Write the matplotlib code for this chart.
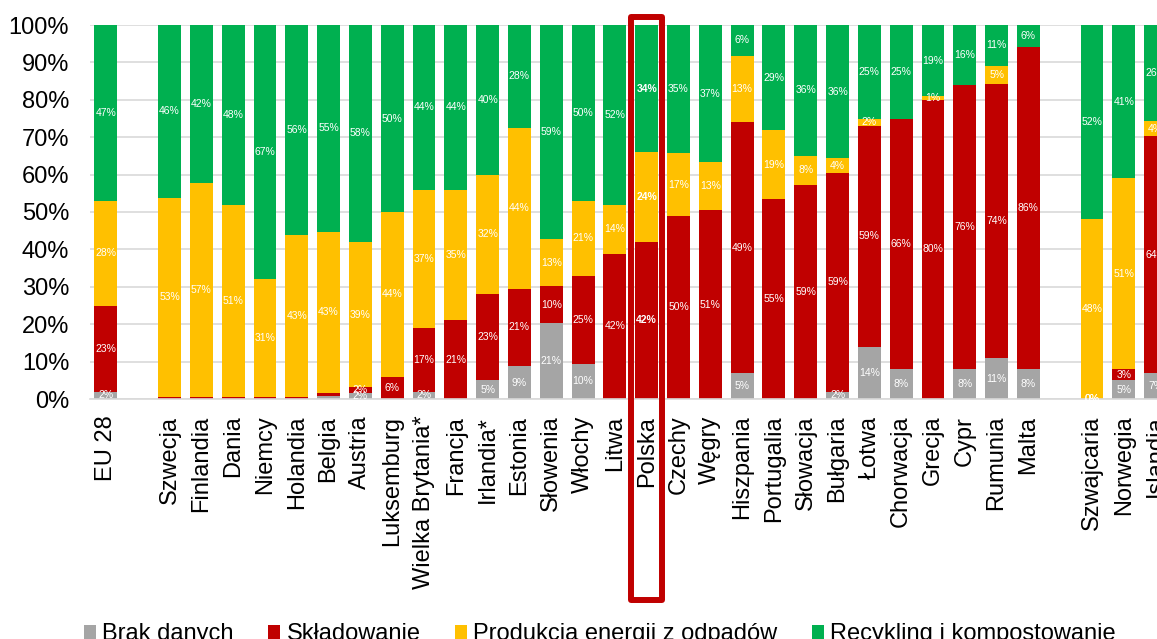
import matplotlib
matplotlib.use("Agg")
import matplotlib.pyplot as plt
import matplotlib.transforms as mtransforms
from matplotlib.patches import Patch, Rectangle
import numpy as np

plt.rcParams["font.family"] = ["Liberation Sans", "DejaVu Sans"]

# Municipal waste treatment shares by country (empty strings are spacer slots)
categories = [
    "EU 28", "",
    "Szwecja", "Finlandia", "Dania", "Niemcy", "Holandia", "Belgia", "Austria",
    "Luksemburg", "Wielka Brytania*", "Francja", "Irlandia*", "Estonia",
    "Słowenia", "Włochy", "Litwa", "Polska", "Czechy", "Węgry", "Hiszpania",
    "Portugalia", "Słowacja", "Bułgaria", "Łotwa", "Chorwacja", "Grecja",
    "Cypr", "Rumunia", "Malta", "",
    "Szwajcaria", "Norwegia", "Islandia",
]

brak_danych = [2, 0,
               0, 0, 0, 0, 0, 0.7, 1.5, 0, 2, 0, 5, 9, 21, 10, 0, 0, 0, 0, 5,
               0, 0, 2, 14, 8, 0, 8, 11, 8, 0,
               0, 5, 7]
skladowanie = [23, 0,
               0.6, 0.6, 0.6, 0.6, 0.6, 0.9, 1.6, 6, 17, 21, 23, 21, 10, 25, 42,
               42, 50, 51, 49, 55, 59, 59, 59, 66, 80, 76, 74, 86, 0,
               0, 3, 64]
energia = [28, 0,
           53, 57, 51, 31, 43, 43, 39, 44, 37, 35, 32, 44, 13, 21, 14, 24, 17,
           13, 13, 19, 8, 4, 2, 0, 1, 0, 5, 0, 0,
           48, 51, 4]
recykling = [47, 0,
             46, 42, 48, 67, 56, 55, 58, 50, 44, 44, 40, 28, 59, 50, 52, 34, 35,
             37, 6, 29, 36, 36, 25, 25, 19, 16, 11, 6, 0,
             52, 41, 26]

series_names = ["Brak danych", "Składowanie", "Produkcja energii z odpadów",
                "Recykling i kompostowanie"]
series_colors = ["#A5A5A5", "#C00000", "#FFC000", "#00B050"]

highlight = "Polska"
zero_labelled = ["Szwajcaria"]

W, H, DPI = 1157, 639, 100
FS = 17
fig = plt.figure(figsize=(W / DPI, H / DPI), dpi=DPI)
ax = fig.add_axes([90 / W, 1 - 399 / H, 1 - 90 / W, (399 - 25) / H])

data = np.array([brak_danych, skladowanie, energia, recykling], dtype=float)
totals = data.sum(axis=0)
x = np.arange(len(categories))
valid = totals > 0
shares = np.zeros_like(data)
shares[:, valid] = data[:, valid] / totals[valid] * 100

bottom = np.zeros(len(categories))
for s, (name, color) in enumerate(zip(series_names, series_colors)):
    ax.bar(x[valid], shares[s, valid], 0.72, bottom=bottom[valid],
           color=color, edgecolor="none", zorder=2)
    for i in np.where(valid)[0]:
        v = data[s, i]
        show = v >= 1 or (v == 0 and categories[i] in zero_labelled)
        if show:
            ax.text(x[i], bottom[i] + shares[s, i] / 2, f"{v:.0f}%",
                    ha="center", va="center", color="white", fontsize=7.5,
                    fontweight="bold" if categories[i] == highlight else "normal",
                    zorder=3)
    bottom += shares[s]

ax.set_xlim(-0.5, -0.5 + (W - 90) / 31.81)
ax.set_ylim(0, 100)
ax.set_yticks(np.arange(0, 101, 10))
ax.set_yticklabels([f"{t}%" for t in range(0, 101, 10)])
ax.set_xticks(x)
ax.set_xticklabels(categories, rotation=90, ha="center", va="top")
ax.tick_params(axis="y", length=0, pad=15, labelsize=FS)
ax.tick_params(axis="x", length=0, pad=12, labelsize=FS)
ax.yaxis.grid(True, color="#D9D9D9", linewidth=1.2, zorder=0)
ax.set_axisbelow(True)
for side in ["top", "right", "left"]:
    ax.spines[side].set_visible(False)
ax.spines["bottom"].set_color("#D9D9D9")
ax.spines["bottom"].set_linewidth(1.2)

# Frame around the highlighted country and its label
trans = mtransforms.blended_transform_factory(ax.transData, fig.transFigure)
hi = categories.index(highlight)
y0, y1 = 1 - 600 / H, 1 - 16.7 / H
frame = Rectangle((hi - 0.494, y0), 0.988, y1 - y0, transform=trans,
                  fill=False, edgecolor="#C00000", linewidth=4.3,
                  joinstyle="round", clip_on=False, zorder=5)
fig.add_artist(frame)

handles = [Patch(facecolor=c, edgecolor="none") for c in series_colors]
fig.legend(handles, series_names, loc="lower left",
           bbox_to_anchor=(84 / W, -0.01), ncol=4, frameon=False,
           fontsize=FS, handlelength=0.52, handleheight=0.55,
           handletextpad=0.26, columnspacing=1.45, borderpad=0,
           borderaxespad=0)

fig.savefig("out.png", dpi=DPI)
